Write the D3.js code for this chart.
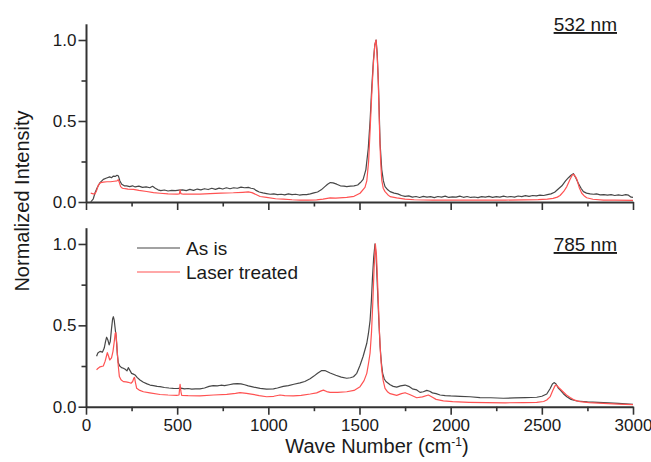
<!DOCTYPE html>
<html><head><meta charset="utf-8">
<script src="https://cdn.jsdelivr.net/npm/d3@7"></script>
<style>body{margin:0;background:#fff}svg{display:block}text{font-family:"Liberation Sans",Arial,sans-serif;fill:#1a1a1a}</style>
</head><body><svg id="c" width="651" height="462"></svg>
<script>
// ---- data ----
const seriesNames = ["As is", "Laser treated"];
const panelLabels = ["532 nm", "785 nm"];
const xTicks = [0, 500, 1000, 1500, 2000, 2500, 3000];
const yTicks = [0.0, 0.5, 1.0];

const asIs532 = [[26,0.0],[40,0.02],[49,0.055],[62,0.09],[77,0.12],[95,0.14],[113,0.148],[130,0.155],[140,0.15],[149,0.16],[160,0.158],[170,0.165],[178,0.16],[186,0.13],[196,0.11],[210,0.1],[223,0.10],[240,0.095],[255,0.1],[270,0.093],[290,0.098],[310,0.09],[330,0.093],[350,0.088],[365,0.097],[380,0.085],[395,0.075],[410,0.07],[430,0.074],[450,0.068],[470,0.072],[490,0.07],[510,0.073],[530,0.075],[550,0.07],[570,0.078],[590,0.072],[610,0.08],[630,0.075],[650,0.082],[670,0.077],[690,0.085],[710,0.078],[730,0.086],[750,0.08],[770,0.088],[790,0.082],[810,0.088],[830,0.085],[850,0.092],[870,0.088],[890,0.09],[905,0.085],[920,0.082],[935,0.07],[950,0.062],[970,0.056],[990,0.052],[1010,0.048],[1030,0.05],[1050,0.046],[1070,0.048],[1090,0.044],[1110,0.05],[1130,0.046],[1150,0.048],[1170,0.043],[1190,0.046],[1210,0.045],[1230,0.05],[1250,0.056],[1270,0.062],[1290,0.075],[1310,0.095],[1325,0.11],[1340,0.12],[1355,0.118],[1375,0.11],[1395,0.1],[1415,0.098],[1430,0.095],[1450,0.098],[1470,0.1],[1490,0.105],[1505,0.12],[1520,0.14],[1535,0.2],[1548,0.33],[1558,0.5],[1567,0.7],[1576,0.87],[1584,0.97],[1591,1.0],[1597,0.92],[1604,0.72],[1613,0.36],[1622,0.2],[1631,0.13],[1640,0.095],[1655,0.075],[1668,0.064],[1690,0.055],[1710,0.05],[1730,0.04],[1750,0.035],[1770,0.038],[1790,0.03],[1810,0.034],[1830,0.028],[1850,0.035],[1870,0.03],[1890,0.033],[1910,0.027],[1930,0.034],[1950,0.03],[1970,0.036],[1990,0.028],[2010,0.032],[2030,0.03],[2050,0.036],[2070,0.029],[2090,0.034],[2110,0.028],[2130,0.031],[2150,0.027],[2170,0.033],[2190,0.03],[2210,0.035],[2230,0.029],[2250,0.033],[2270,0.03],[2290,0.036],[2310,0.031],[2330,0.034],[2350,0.03],[2370,0.037],[2390,0.033],[2410,0.039],[2430,0.035],[2450,0.04],[2470,0.038],[2490,0.042],[2510,0.04],[2530,0.045],[2550,0.05],[2570,0.06],[2590,0.08],[2610,0.1],[2630,0.13],[2646,0.15],[2660,0.165],[2673,0.175],[2686,0.15],[2700,0.115],[2715,0.085],[2728,0.064],[2745,0.055],[2765,0.05],[2783,0.048],[2800,0.05],[2820,0.044],[2840,0.046],[2860,0.042],[2880,0.045],[2900,0.04],[2920,0.044],[2940,0.04],[2960,0.046],[2975,0.042],[2990,0.03],[3000,0.028]];

const laser532 = [[26,0.055],[40,0.05],[49,0.05],[58,0.07],[68,0.105],[80,0.12],[95,0.123],[115,0.125],[135,0.125],[155,0.128],[170,0.13],[177,0.138],[183,0.12],[190,0.095],[200,0.085],[215,0.082],[230,0.08],[260,0.078],[290,0.072],[333,0.065],[370,0.058],[406,0.054],[450,0.05],[500,0.049],[512,0.05],[516,0.075],[520,0.052],[534,0.048],[580,0.048],[625,0.049],[680,0.052],[740,0.055],[808,0.057],[860,0.06],[890,0.062],[910,0.058],[935,0.045],[955,0.034],[990,0.028],[1040,0.02],[1082,0.018],[1130,0.014],[1174,0.012],[1220,0.012],[1265,0.013],[1300,0.018],[1339,0.026],[1370,0.024],[1430,0.028],[1470,0.035],[1503,0.054],[1530,0.09],[1540,0.13],[1550,0.25],[1558,0.44],[1567,0.66],[1576,0.85],[1584,0.97],[1591,1.0],[1597,0.9],[1602,0.78],[1611,0.4],[1616,0.25],[1622,0.135],[1630,0.085],[1640,0.064],[1655,0.045],[1668,0.033],[1704,0.025],[1750,0.018],[1800,0.014],[1900,0.012],[2000,0.012],[2100,0.011],[2200,0.012],[2300,0.012],[2400,0.013],[2480,0.015],[2530,0.018],[2562,0.022],[2585,0.03],[2600,0.04],[2620,0.065],[2637,0.095],[2655,0.14],[2668,0.168],[2675,0.17],[2685,0.155],[2692,0.14],[2705,0.09],[2719,0.054],[2735,0.035],[2746,0.026],[2780,0.017],[2838,0.012],[2900,0.011],[3000,0.01]];

const asIs785 = [[58,0.31],[65,0.33],[77,0.34],[90,0.335],[100,0.36],[107,0.4],[113,0.427],[120,0.41],[127,0.38],[133,0.4],[140,0.48],[146,0.54],[150,0.553],[155,0.53],[159,0.49],[164,0.44],[168,0.39],[172,0.32],[177,0.27],[185,0.25],[195,0.24],[205,0.236],[215,0.23],[225,0.22],[232,0.24],[240,0.225],[250,0.205],[260,0.2],[269,0.195],[280,0.18],[296,0.164],[315,0.15],[335,0.14],[351,0.133],[370,0.13],[390,0.125],[406,0.123],[430,0.118],[455,0.115],[479,0.113],[500,0.112],[520,0.114],[540,0.11],[560,0.112],[580,0.108],[600,0.11],[625,0.11],[650,0.115],[675,0.125],[698,0.13],[720,0.128],[740,0.132],[760,0.13],[785,0.135],[808,0.14],[830,0.142],[850,0.14],[870,0.135],[890,0.128],[920,0.12],[955,0.113],[990,0.108],[1028,0.11],[1050,0.115],[1082,0.125],[1110,0.13],[1140,0.138],[1174,0.146],[1200,0.155],[1229,0.172],[1250,0.188],[1270,0.205],[1293,0.222],[1310,0.222],[1339,0.207],[1370,0.193],[1400,0.182],[1430,0.175],[1450,0.178],[1467,0.184],[1485,0.205],[1503,0.255],[1520,0.31],[1530,0.35],[1540,0.39],[1549,0.45],[1558,0.53],[1565,0.65],[1571,0.79],[1578,0.92],[1585,1.0],[1591,0.93],[1598,0.74],[1606,0.53],[1613,0.37],[1620,0.27],[1627,0.205],[1636,0.17],[1645,0.155],[1668,0.135],[1685,0.125],[1704,0.12],[1725,0.128],[1750,0.133],[1770,0.125],[1790,0.11],[1814,0.103],[1832,0.088],[1850,0.092],[1869,0.1],[1885,0.095],[1900,0.085],[1920,0.08],[1942,0.072],[1970,0.068],[2000,0.066],[2052,0.064],[2106,0.061],[2161,0.056],[2220,0.055],[2289,0.052],[2350,0.054],[2410,0.056],[2472,0.058],[2500,0.064],[2527,0.078],[2545,0.11],[2558,0.14],[2567,0.148],[2578,0.14],[2590,0.115],[2600,0.103],[2618,0.08],[2637,0.061],[2660,0.045],[2692,0.035],[2750,0.03],[2838,0.025],[2920,0.02],[3000,0.015]];

const laser785 = [[58,0.226],[65,0.235],[77,0.245],[95,0.25],[105,0.28],[112,0.31],[117,0.332],[124,0.31],[130,0.287],[140,0.3],[148,0.34],[155,0.4],[160,0.45],[164,0.455],[168,0.4],[172,0.33],[177,0.25],[183,0.185],[192,0.165],[205,0.154],[220,0.152],[232,0.15],[247,0.144],[256,0.155],[262,0.175],[266,0.18],[271,0.15],[278,0.113],[295,0.1],[315,0.092],[350,0.085],[406,0.075],[450,0.072],[498,0.07],[510,0.072],[516,0.138],[521,0.09],[525,0.07],[560,0.068],[625,0.066],[700,0.072],[772,0.076],[820,0.082],[845,0.086],[880,0.082],[915,0.076],[950,0.068],[991,0.061],[1030,0.064],[1064,0.072],[1090,0.068],[1137,0.066],[1180,0.07],[1230,0.078],[1265,0.085],[1290,0.097],[1302,0.102],[1320,0.093],[1339,0.088],[1380,0.088],[1430,0.092],[1470,0.1],[1503,0.123],[1525,0.16],[1540,0.205],[1550,0.27],[1558,0.33],[1566,0.46],[1573,0.64],[1580,0.85],[1587,1.0],[1593,0.93],[1598,0.8],[1604,0.62],[1609,0.47],[1615,0.33],[1622,0.226],[1630,0.16],[1640,0.113],[1655,0.09],[1668,0.08],[1704,0.07],[1730,0.08],[1750,0.086],[1775,0.075],[1814,0.055],[1845,0.06],[1878,0.072],[1900,0.058],[1920,0.045],[1960,0.036],[2011,0.031],[2100,0.027],[2198,0.025],[2300,0.024],[2400,0.025],[2472,0.027],[2510,0.032],[2527,0.041],[2545,0.06],[2560,0.1],[2572,0.128],[2580,0.133],[2595,0.115],[2618,0.09],[2635,0.072],[2655,0.057],[2680,0.04],[2710,0.031],[2760,0.025],[2838,0.02],[2920,0.016],[3000,0.013]];

// ---- drawing ----
const colors = ["#474747", "#ff5252"];
const svg = d3.select("#c");
const x = d3.scaleLinear().domain([0, 3000]).range([86, 633]);
const panels = [
  {y: d3.scaleLinear().domain([0, 1.1]).range([202, 23.8]), data: [asIs532, laser532], label: panelLabels[0], labels: false, ly: 31},
  {y: d3.scaleLinear().domain([0, 1.1]).range([406.7, 227.7]), data: [asIs785, laser785], label: panelLabels[1], labels: true, ly: 251}
];
const axisColor = "#333";
function styleAxis(g){
  g.selectAll("path").attr("stroke", axisColor).attr("stroke-width", 2);
  g.selectAll("line").attr("stroke", axisColor).attr("stroke-width", 1.6);
  g.selectAll("text").attr("font-size", 17).attr("fill", "#1a1a1a").attr("font-family", '"Liberation Sans", Arial, sans-serif');
}
panels.forEach(p => {
  const y0 = p.y(0);
  svg.append("g").attr("transform", `translate(0,${y0})`)
    .call(d3.axisBottom(x).tickValues(d3.range(250, 3000, 500)).tickSize(4.5).tickFormat("").tickSizeOuter(0))
    .call(styleAxis).select("path").remove();
  svg.append("g").attr("transform", `translate(86,0)`)
    .call(d3.axisLeft(p.y).tickValues([0.25, 0.75]).tickSize(4.5).tickFormat("").tickSizeOuter(0))
    .call(styleAxis).select("path").remove();
  svg.append("g").attr("transform", `translate(0,${y0})`)
    .call(d3.axisBottom(x).tickValues(xTicks).tickSize(8).tickSizeOuter(0).tickPadding(4)
      .tickFormat(p.labels ? d3.format("d") : ""))
    .call(styleAxis);
  svg.append("g").attr("transform", `translate(86,0)`)
    .call(d3.axisLeft(p.y).tickValues(yTicks).tickSize(7.5).tickSizeOuter(0).tickPadding(2).tickFormat(d3.format(".1f")))
    .call(styleAxis);
  const line = d3.line().x(d => x(d[0])).y(d => p.y(d[1]));
  p.data.forEach((d, i) => {
    svg.append("path").datum(d).attr("d", line).attr("fill", "none")
      .attr("stroke", colors[i]).attr("stroke-width", 1.2).attr("stroke-linejoin", "round");
  });
  svg.append("text").attr("x", 617).attr("y", p.ly).attr("text-anchor", "end")
    .attr("font-size", 19).attr("text-decoration", "underline").text(p.label);
});
const legY = [248, 272];
seriesNames.forEach((n, i) => {
  svg.append("line").attr("x1", 137).attr("x2", 180).attr("y1", legY[i]).attr("y2", legY[i])
    .attr("stroke", colors[i]).attr("stroke-width", 1.2);
  svg.append("text").attr("x", 186).attr("y", legY[i] + 7).attr("font-size", 19).text(n);
});
svg.append("text").attr("transform", "translate(29,201) rotate(-90)").attr("text-anchor", "middle")
  .attr("font-size", 20).text("Normalized Intensity");
const xt = svg.append("text").attr("x", 377).attr("y", 453).attr("text-anchor", "middle").attr("font-size", 20);
xt.append("tspan").text("Wave Number (cm");
xt.append("tspan").attr("font-size", 12).attr("dy", -7).text("-1");
xt.append("tspan").attr("dy", 7).text(")");
</script></body></html>
